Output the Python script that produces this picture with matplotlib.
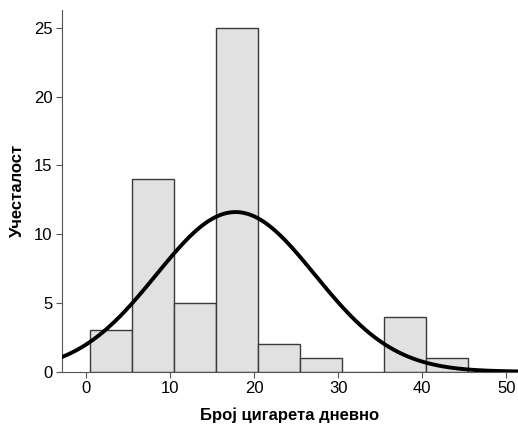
import numpy as np
import matplotlib
matplotlib.use("Agg")
import matplotlib.pyplot as plt

# histogram bins (lower edges) and counts
bin_edges = [0.5, 5.5, 10.5, 15.5, 20.5, 25.5, 30.5, 35.5, 40.5, 45.5]
counts = [3, 14, 5, 25, 2, 1, 0, 4, 1]
n_total = sum(counts)
# fitted normal curve parameters (estimated)
curve_mean = 17.8
curve_sd = 9.45

xticks = [0, 10, 20, 30, 40, 50]
yticks = [0, 5, 10, 15, 20, 25]

plt.rcParams['font.family'] = ['Liberation Sans', 'DejaVu Sans']

fig = plt.figure(figsize=(5.18, 4.24), dpi=100)
ax = fig.add_axes([62 / 518, (424 - 371.7) / 424, (518 - 62) / 518, (371.7 - 10) / 424])

widths = np.diff(bin_edges)
ax.bar(bin_edges[:-1], counts, width=widths, align='edge',
       color='#e1e1e1', edgecolor='#3a3a3a', linewidth=1.0, zorder=2)

xs = np.linspace(-3, 52, 400)
binw = widths[0]
ys = n_total * binw / (curve_sd * np.sqrt(2 * np.pi)) * np.exp(-0.5 * ((xs - curve_mean) / curve_sd) ** 2)
ax.plot(xs, ys, color='black', linewidth=2.8, zorder=3, solid_capstyle='butt')

ax.set_xlim(-2.85, 51.4)
ax.set_ylim(0, 26.3)
ax.set_xticks(xticks)
ax.set_yticks(yticks)
ax.tick_params(axis='both', labelsize=12, length=4, width=0.8, color='#555555', pad=3)
for side in ['top', 'right']:
    ax.spines[side].set_visible(False)
for side in ['left', 'bottom']:
    ax.spines[side].set_color('#555555')
    ax.spines[side].set_linewidth(0.8)

ax.set_xlabel('Број цигарета дневно', fontsize=12, fontweight='bold', labelpad=8)
ax.set_ylabel('Учесталост', fontsize=12, fontweight='bold', labelpad=6)

fig.savefig('out.png', dpi=100)
